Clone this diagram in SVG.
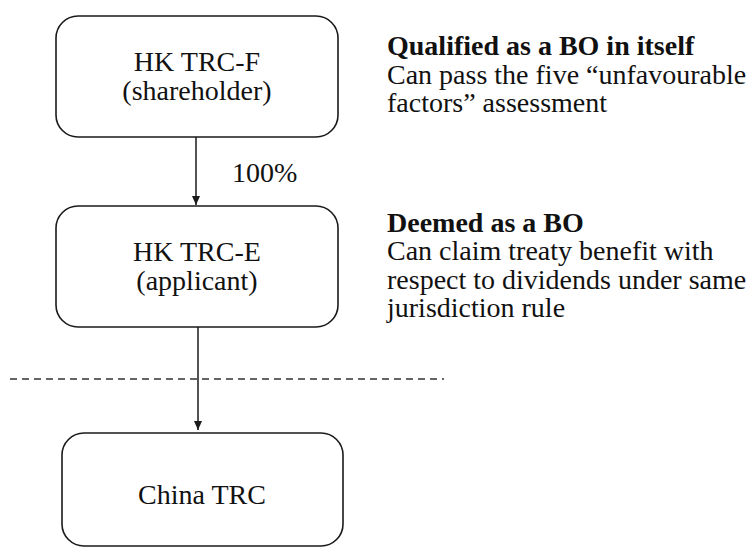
<svg xmlns="http://www.w3.org/2000/svg" width="751" height="547" viewBox="0 0 751 547">
  <style>
    .box { fill: #ffffff; stroke: #1a1a1a; stroke-width: 1.6; }
    .edge { stroke: #1a1a1a; stroke-width: 1.5; fill: none; }
    .dash { stroke: #333333; stroke-width: 1.4; stroke-dasharray: 7 5; fill: none; }
    text { font-family: "Liberation Serif", "Times New Roman", serif; font-size: 28px; fill: #111111; }
    .c { text-anchor: middle; }
    .b { font-weight: bold; }
  </style>
  <defs>
    <marker id="arrow" markerWidth="10" markerHeight="10" refX="9" refY="5" orient="auto" markerUnits="userSpaceOnUse">
      <path d="M0,1 L9,5 L0,9 Z" fill="#1a1a1a"/>
    </marker>
  </defs>
  <rect width="751" height="547" fill="#ffffff"/>

  <!-- jurisdiction boundary -->
  <line class="dash" x1="10" y1="379" x2="444" y2="379"/>

  <g id="connectors">
    <line class="edge" x1="196" y1="137" x2="196" y2="205" marker-end="url(#arrow)"/>
    <line class="edge" x1="198" y1="327" x2="198" y2="430" marker-end="url(#arrow)"/>
    <text x="232" y="182">100%</text>
  </g>

  <g id="hk-trc-f">
    <rect class="box" x="56" y="16" width="282" height="121" rx="22"/>
    <text class="c" x="197" y="71">HK TRC-F</text>
    <text class="c" x="197" y="100">(shareholder)</text>
  </g>

  <g id="hk-trc-e">
    <rect class="box" x="56" y="206" width="282" height="121" rx="22"/>
    <text class="c" x="197" y="261">HK TRC-E</text>
    <text class="c" x="197" y="290">(applicant)</text>
  </g>

  <g id="china-trc">
    <rect class="box" x="62" y="433" width="281" height="113" rx="22"/>
    <text class="c" x="202" y="504">China TRC</text>
  </g>

  <g id="note-shareholder">
    <text class="b" x="387" y="55">Qualified as a BO in itself</text>
    <text x="387" y="84">Can pass the five “unfavourable</text>
    <text x="387" y="112">factors” assessment</text>
  </g>

  <g id="note-applicant">
    <text class="b" x="387" y="232">Deemed as a BO</text>
    <text x="387" y="260">Can claim treaty benefit with</text>
    <text x="387" y="289">respect to dividends under same</text>
    <text x="387" y="317">jurisdiction rule</text>
  </g>
</svg>
